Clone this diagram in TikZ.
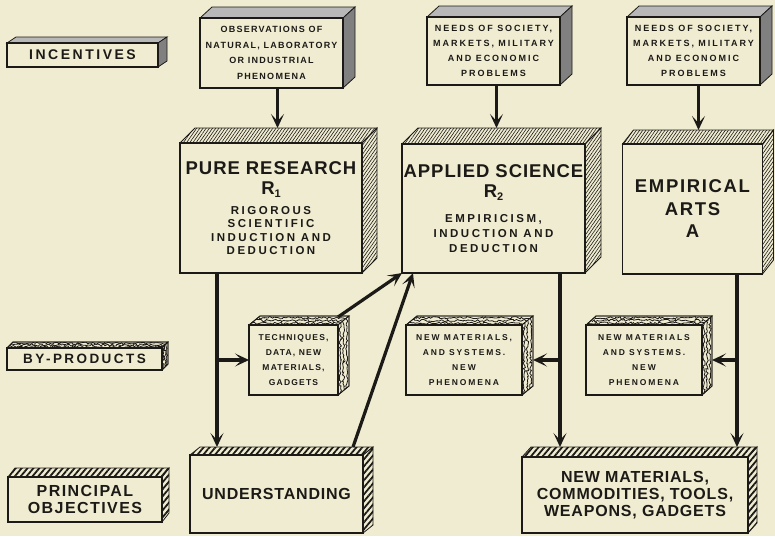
\documentclass[tikz,border=0pt]{standalone}
\usepackage{fontspec}
\usepackage{xcolor}
\setmainfont{Liberation Sans}
\newfontfamily\fbig[LetterSpace=5]{Liberation Sans}
\newfontfamily\fmid[LetterSpace=9]{Liberation Sans}
\newfontfamily\flab[LetterSpace=18]{Liberation Sans}
\newfontfamily\fsmall[LetterSpace=14]{Liberation Sans}
\newfontfamily\fmed[LetterSpace=22]{Liberation Sans}
\usetikzlibrary{calc,arrows.meta,patterns,patterns.meta,decorations.pathmorphing}
\definecolor{bgcream}{RGB}{240,236,210}
\definecolor{ink}{RGB}{28,26,22}
\pagecolor{bgcream}
\tikzset{
 face/.style={draw=ink, line width=1.4, fill=bgcream, inner sep=0pt, outer sep=0pt, text=ink, align=center},
 thinhatch/.style={draw=ink, line width=0.8, pattern={Lines[angle=55,distance=2.6pt,line width=0.6pt]}, pattern color=ink},
 boldhatch/.style={draw=ink, line width=0.8, pattern={Lines[angle=50,distance=4.5pt,line width=1.8pt]}, pattern color=ink},
 graytop/.style={draw=ink, line width=0.8, fill=black!28},
 grayside/.style={draw=ink, line width=0.8, fill=black!50},
 texface/.style={draw=ink, line width=0.8, fill=bgcream},
 squig/.style={ink, line width=0.8, decorate, decoration={random steps, segment length=1.8pt, amplitude=1.2pt}},
 arr/.style={draw=ink, line width=3.2, -{Stealth[length=14pt,width=13pt,inset=7pt]}},
}
\newcommand\boxfaces[5]{%
  \path[#4] (#1.north west) -- ++(#2,#3) -- ($(#1.north east)+(#2,#3)$) -- (#1.north east) -- cycle;
  \path[#5] (#1.north east) -- ++(#2,#3) -- ($(#1.south east)+(#2,#3)$) -- (#1.south east) -- cycle;
  \draw[ink, line width=1.4] (#1.north west) rectangle (#1.south east);
  \coordinate (#1-back) at ($(#1.north)+(#2,#3)$);
}
\newcommand\squigfaces[3]{%
  \begin{scope}
   \clip (#1.north west) -- ++(#2,#3) -- ($(#1.north east)+(#2,#3)$) -- (#1.north east) -- cycle;
   \foreach \k in {0.2,0.5,0.8}
     \draw[squig] ($(#1.north west)+\k*(#2,#3)+(-3,0)$) -- ($(#1.north east)+\k*(#2,#3)+(3,0)$);
  \end{scope}
  \begin{scope}
   \clip (#1.north east) -- ++(#2,#3) -- ($(#1.south east)+(#2,#3)$) -- (#1.south east) -- cycle;
   \foreach \k in {0.2,0.5,0.8}
     \draw[squig] ($(#1.north east)+\k*(#2,#3)+(0,-3)$) -- ($(#1.south east)+\k*(#2,#3)+(0,3)$);
  \end{scope}
  \draw[ink, line width=0.8] (#1.north west) -- ++(#2,#3) -- ($(#1.north east)+(#2,#3)$) -- ($(#1.south east)+(#2,#3)$) -- (#1.south east);
  \draw[ink, line width=1.4] (#1.north west) rectangle (#1.south east);
}
\begin{document}
\begin{tikzpicture}[x=1pt,y=-1pt]
\pgfmathsetseed{7}
\fill[bgcream] (0,0) rectangle (775,536);
\useasboundingbox (0,0) rectangle (775,536);

% ---- row labels
\node[face, minimum width=151, minimum height=24, font=\flab\bfseries\fontsize{14}{16}\selectfont] (inc) at (82.5,55) {INCENTIVES};
\boxfaces{inc}{9}{-6}{graytop}{grayside}
\node[face, minimum width=155, minimum height=22, font=\flab\bfseries\fontsize{13.5}{15}\selectfont] (byp) at (84.5,359) {BY-PRODUCTS};
\boxfaces{byp}{6}{-6}{texface}{texface}
\squigfaces{byp}{6}{-6}
\node[face, minimum width=154, minimum height=45, font=\fmid\bfseries\fontsize{16}{17}\selectfont] (prin) at (85,499.5) {PRINCIPAL\\OBJECTIVES};
\boxfaces{prin}{7}{-9}{boldhatch}{boldhatch}

% ---- incentives
\node[face, minimum width=143, minimum height=70, font=\fsmall\bfseries\fontsize{9}{15.5}\selectfont] (obs) at (271.5,53) {OBSERVATIONS OF\\NATURAL, LABORATORY\\OR INDUSTRIAL\\PHENOMENA};
\boxfaces{obs}{12}{-11}{graytop}{grayside}
\node[face, minimum width=133, minimum height=68, font=\fmed\bfseries\fontsize{9}{15}\selectfont] (need1) at (493.5,51) {NEEDS OF SOCIETY,\\MARKETS, MILITARY\\AND ECONOMIC\\PROBLEMS};
\boxfaces{need1}{12}{-11}{graytop}{grayside}
\node[face, minimum width=133, minimum height=68, font=\fmed\bfseries\fontsize{9}{15}\selectfont] (need2) at (693.5,51) {NEEDS OF SOCIETY,\\MARKETS, MILITARY\\AND ECONOMIC\\PROBLEMS};
\boxfaces{need2}{12}{-11}{graytop}{grayside}

% ---- activities
\node[face, minimum width=182, minimum height=130, font=\fmed\bfseries\fontsize{11.5}{13.3}\selectfont] (pure) at (271,208)
 {{\fbig\fontsize{18.5}{18}\selectfont PURE RESEARCH}\\[6.7pt]
  {\fbig\fontsize{18.5}{18}\selectfont R\raisebox{-3pt}{\fontsize{11}{11}\selectfont 1}}\\[6.7pt]
  RIGOROUS\\SCIENTIFIC\\INDUCTION AND\\DEDUCTION};
\boxfaces{pure}{15}{-15}{thinhatch}{thinhatch}
\node[face, minimum width=183, minimum height=129, font=\fmed\bfseries\fontsize{11.5}{15}\selectfont] (appl) at (493.5,208.5)
 {{\fbig\fontsize{18.5}{18}\selectfont APPLIED SCIENCE}\\[5pt]
  {\fbig\fontsize{18.5}{18}\selectfont R\raisebox{-3pt}{\fontsize{11}{11}\selectfont 2}}\\[10pt]
  EMPIRICISM,\\INDUCTION AND\\DEDUCTION};
\boxfaces{appl}{16}{-16}{thinhatch}{thinhatch}
\node[face, minimum width=140, minimum height=130, font=\fmid\bfseries\fontsize{18.5}{22.5}\selectfont] (emp) at (692.5,209)
 {EMPIRICAL\\ARTS\\A};
\boxfaces{emp}{11}{-14}{thinhatch}{thinhatch}

% ---- by-products
\node[face, minimum width=89, minimum height=70, font=\fsmall\bfseries\fontsize{8.5}{15}\selectfont] (tech) at (293.5,360) {TECHNIQUES,\\DATA, NEW\\MATERIALS,\\GADGETS};
\boxfaces{tech}{11}{-9}{texface}{texface}
\squigfaces{tech}{11}{-9}
\node[face, minimum width=116, minimum height=70, font=\fmed\bfseries\fontsize{8.5}{15}\selectfont] (nm1) at (464,360) {NEW MATERIALS,\\AND SYSTEMS.\\NEW\\PHENOMENA};
\boxfaces{nm1}{11}{-9}{texface}{texface}
\squigfaces{nm1}{11}{-9}
\node[face, minimum width=116, minimum height=70, font=\fmed\bfseries\fontsize{8.5}{15}\selectfont] (nm2) at (644,360) {NEW MATERIALS\\AND SYSTEMS.\\NEW\\PHENOMENA};
\boxfaces{nm2}{10}{-9}{texface}{texface}
\squigfaces{nm2}{10}{-9}

% ---- objectives
\node[face, minimum width=173, minimum height=78, font=\fbig\bfseries\fontsize{16}{17}\selectfont] (und) at (276.5,494) {UNDERSTANDING};
\boxfaces{und}{10}{-8}{boldhatch}{boldhatch}
\node[face, minimum width=226, minimum height=76, font=\fbig\bfseries\fontsize{16}{17}\selectfont] (fin) at (635,495) {NEW MATERIALS,\\COMMODITIES, TOOLS,\\WEAPONS, GADGETS};
\boxfaces{fin}{9}{-10}{boldhatch}{boldhatch}

% ---- connectors
\draw[arr] ([xshift=6]obs.south) -- ([xshift=6]obs.south |- pure-back);
\draw[arr] ([xshift=3]need1.south) -- ([xshift=3]need1.south |- appl-back);
\draw[arr] ([xshift=5]need2.south) -- ([xshift=5]need2.south |- emp-back);

\draw[arr] ([xshift=-54]pure.south) -- ([xshift=-54]pure.south |- und-back);
\draw[arr] ([xshift=-54]pure.south |- tech.west) -- (tech.west);
\draw[arr] ($(tech.north east)+(0,-8)$) -- (appl.south west);
\draw[arr] ($(und.north east)+(-10,-8)$) -- ([xshift=11]appl.south west);

\draw[arr] ([xshift=66.5]appl.south) -- ([xshift=66.5]appl.south |- fin-back);
\draw[arr] ([xshift=66.5]appl.south |- nm1.east) -- ($(nm1.east)+(11,0)$);
\draw[arr] ([xshift=44.5]emp.south) -- ([xshift=44.5]emp.south |- fin-back);
\draw[arr] ([xshift=44.5]emp.south |- nm2.east) -- ($(nm2.east)+(10,0)$);
\end{tikzpicture}
\end{document}
